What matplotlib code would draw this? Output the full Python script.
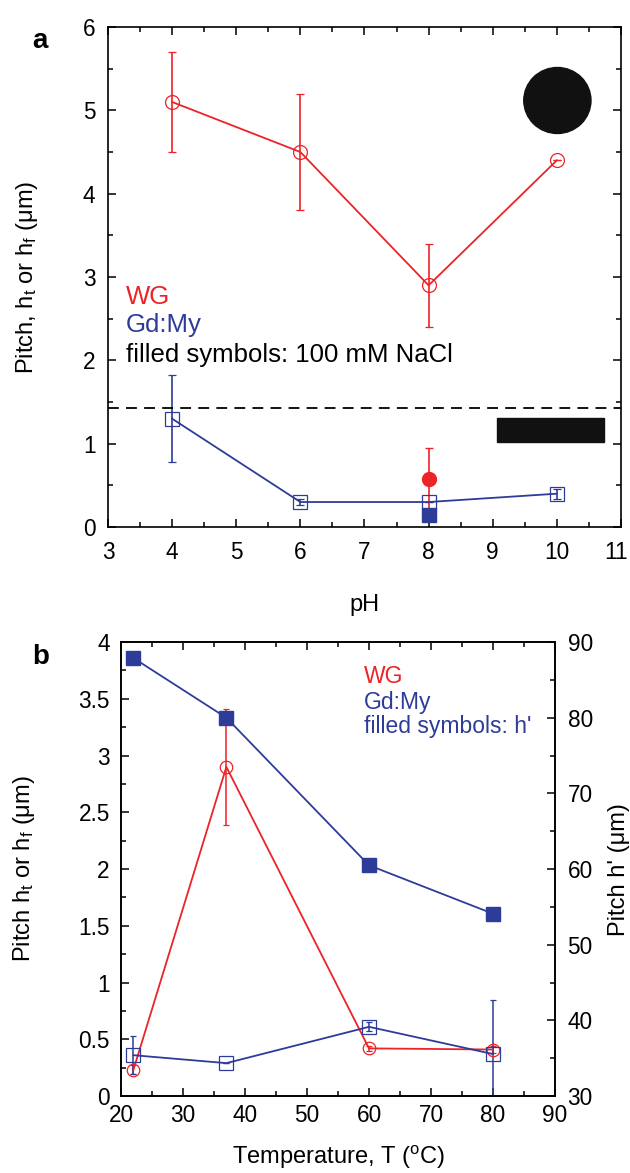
import numpy as np
import matplotlib
matplotlib.use('Agg')
import matplotlib.pyplot as plt
import matplotlib.transforms as mtransforms
from matplotlib.patches import Ellipse, Rectangle

plt.rcParams['font.family'] = ['Liberation Sans', 'DejaVu Sans']
plt.rcParams['mathtext.default'] = 'regular'

RED = '#ec2327'
BLUE = '#2d3c98'

# panel a: pitch vs pH
ph = [4, 6, 8, 10]
wg_a = [5.1, 4.5, 2.9, 4.4]
wg_a_err = [0.6, 0.7, 0.5, 0.0]
gd_a = [1.3, 0.3, 0.3, 0.4]
gd_a_err = [0.52, 0.04, 0.0, 0.06]
ph_salt = [8]
wg_salt = [0.58]
wg_salt_err = [0.37]
gd_salt = [0.15]
dash_level = 1.43

# panel b: pitch vs temperature
temp = [22, 37, 60, 80]
wg_b = [0.23, 2.9, 0.42, 0.41]
wg_b_err = [0.04, 0.51, 0.02, 0.03]
gd_b = [0.36, 0.29, 0.61, 0.37]
gd_b_err = [0.17, 0.0, 0.04, 0.48]
hprime = [87.9, 80.0, 60.5, 54.1]

TICK = 16.3
LAB = 17

fig = plt.figure(figsize=(6.3, 11.73), dpi=100)

def style(ax, top=True, right=True, xpad=10, ypad=9):
    ax.tick_params(which='both', direction='in', top=top, right=right,
                   labelsize=TICK, width=1.1)
    ax.tick_params(axis='x', pad=xpad)
    ax.tick_params(axis='y', pad=ypad)
    ax.tick_params(which='major', length=6)
    ax.tick_params(which='minor', length=3.5)
    for s in ax.spines.values():
        s.set_linewidth(1.2)

# ---- a ----
ax = fig.add_axes([0.1714, 0.5507, 0.8143, 0.4263])
ax.errorbar(ph, wg_a, yerr=wg_a_err, color=RED, lw=1.3, marker='o', ms=10,
            mfc='none', mec=RED, mew=0.9, capsize=3, elinewidth=1.2)
ax.errorbar(ph, gd_a, yerr=gd_a_err, color=BLUE, lw=1.3, marker='s', ms=10,
            mfc='none', mec=BLUE, mew=0.9, capsize=3, elinewidth=1.2)
ax.errorbar(ph_salt, wg_salt, yerr=wg_salt_err, color=RED, marker='o', ms=10,
            ls='none', capsize=3, elinewidth=1.2)
ax.plot(ph_salt, gd_salt, color=BLUE, marker='s', ms=10, ls='none')
ax.axhline(dash_level, color='black', lw=1.3, ls=(0, (6, 4)))
ax.add_patch(Ellipse((0.876, 0.853), 0.131, 0.132, transform=ax.transAxes,
                     color='#111111'))
ax.add_patch(Rectangle((0.759, 0.170), 0.208, 0.049, transform=ax.transAxes,
                       color='#111111'))
ax.text(0.035, 0.461, 'WG', color=RED, fontsize=18.5, transform=ax.transAxes, va='center')
ax.text(0.035, 0.404, 'Gd:My', color=BLUE, fontsize=18.5, transform=ax.transAxes, va='center')
ax.text(0.035, 0.344, 'filled symbols: 100 mM NaCl', color='black', fontsize=18.5,
        transform=ax.transAxes, va='center')
ax.set_xlim(3, 11)
ax.set_ylim(0, 6)
ax.set_xticks(range(3, 12))
ax.set_xticks(np.arange(3, 11.01, 0.5), minor=True)
ax.set_yticks(range(0, 7))
ax.set_yticks(np.arange(0, 6.01, 0.5), minor=True)
style(ax)
# nudge the last tick label ("11") so it stays inside the figure
last = ax.get_xticklabels()[-1]
last.set_transform(last.get_transform() +
                   mtransforms.ScaledTranslation(-5 / 100, 0, fig.dpi_scale_trans))
ax.set_xlabel('pH', fontsize=LAB, labelpad=22)
ax.set_ylabel('Pitch, h$_t$ or h$_f$ (μm)', fontsize=LAB, labelpad=31)
fig.text(0.051, 0.965, 'a', fontsize=20, fontweight='bold', va='center')

# ---- b ----
bx = fig.add_axes([0.192, 0.0656, 0.689, 0.387])
bx.errorbar(temp, wg_b, yerr=wg_b_err, color=RED, lw=1.3, marker='o', ms=9,
            mfc='none', mec=RED, mew=0.9, capsize=2.5, elinewidth=1.1, zorder=3)
bx.errorbar(temp, gd_b, yerr=gd_b_err, color=BLUE, lw=1.3, marker='s', ms=10,
            mfc='none', mec=BLUE, mew=0.9, capsize=2.5, elinewidth=1.1, zorder=3)
bx.set_xlim(20, 90)
bx.set_ylim(0, 4)
bx.set_xticks(range(20, 91, 10))
bx.set_xticks(range(20, 91, 5), minor=True)
bx.set_yticks(np.arange(0, 4.01, 0.5))
bx.set_yticklabels(['0', '0.5', '1', '1.5', '2', '2.5', '3', '3.5', '4'])
bx.set_yticks(np.arange(0, 4.01, 0.25), minor=True)
style(bx, right=False, xpad=6, ypad=8)
bx.set_xlabel('Temperature, T ($^o$C)', fontsize=LAB, labelpad=12)
bx.set_ylabel('Pitch h$_t$ or h$_f$ (μm)', fontsize=LAB, labelpad=30)

rx = bx.twinx()
rx.plot(temp, hprime, color=BLUE, lw=1.3, marker='s', ms=10)
rx.set_ylim(30, 90)
rx.set_yticks(range(30, 91, 10))
rx.set_yticks(range(30, 91, 5), minor=True)
rx.tick_params(which='both', direction='in', labelsize=TICK, width=1.1, pad=9)
rx.tick_params(which='major', length=6)
rx.tick_params(which='minor', length=3.5)
rx.set_ylabel("Pitch h' (μm)", fontsize=LAB, labelpad=11)
for s in rx.spines.values():
    s.set_linewidth(1.2)

bx.text(0.56, 0.925, 'WG', color=RED, fontsize=16.5, transform=bx.transAxes, va='center')
bx.text(0.56, 0.868, 'Gd:My', color=BLUE, fontsize=16.5, transform=bx.transAxes, va='center')
bx.text(0.56, 0.813, "filled symbols: h'", color=BLUE, fontsize=16.5,
        transform=bx.transAxes, va='center')
fig.text(0.051, 0.44, 'b', fontsize=20, fontweight='bold', va='center')

fig.savefig('out.png', dpi=100)
